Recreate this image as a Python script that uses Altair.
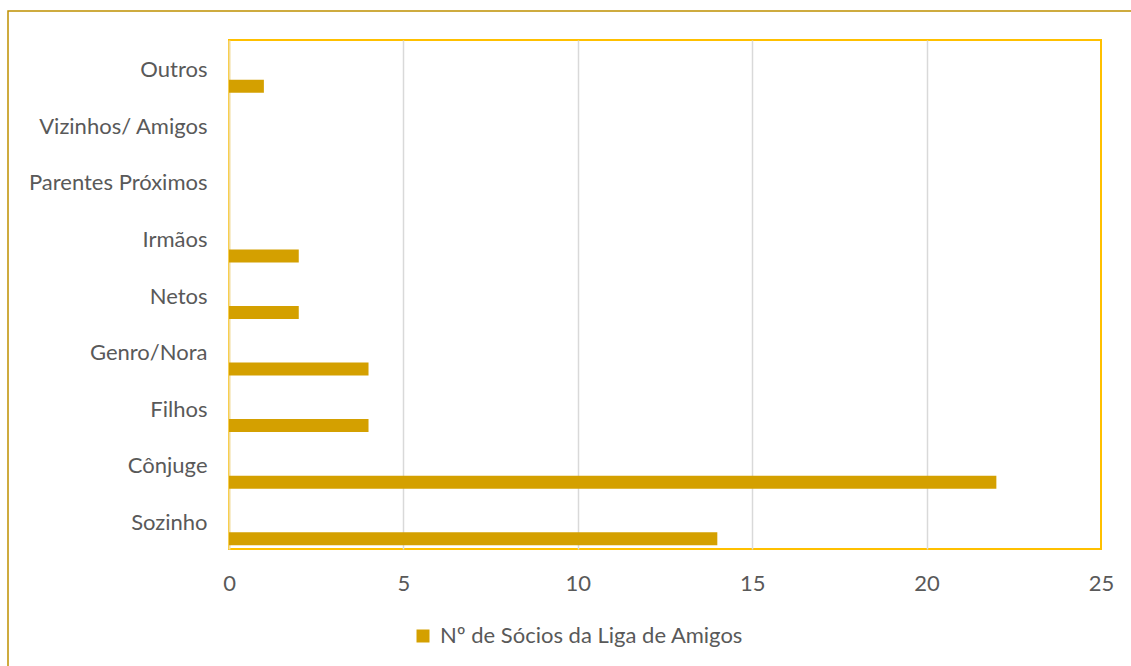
import altair as alt
import pandas as pd

categorias = ["Outros", "Vizinhos/ Amigos", "Parentes Próximos", "Irmãos", "Netos",
              "Genro/Nora", "Filhos", "Cônjuge", "Sozinho"]
valores = [1, 0, 0, 2, 2, 4, 4, 22, 14]
serie = "Nº de Sócios da Liga de Amigos"
x_ticks = [0, 5, 10, 15, 20, 25]

df = pd.DataFrame({"categoria": categorias, "valor": valores,
                   "serie": [serie] * len(categorias)})

W, H = 872, 509
FONT = "Lato"
TXT = "#595959"
FS = 22

bars = alt.Chart(df).mark_bar(height=13, yOffset=18).encode(
    y=alt.Y("categoria:N", sort=categorias,
            axis=alt.Axis(title=None, labelFontSize=FS, labelColor=TXT, labelPadding=22,
                          labelOffset=2,
                          ticks=False, grid=False, domainColor="#F2DC9B", domainWidth=2,
                          labelFont=FONT, labelLimit=400)),
    x=alt.X("valor:Q", scale=alt.Scale(domain=[0, 25], nice=False),
            axis=alt.Axis(values=x_ticks, title=None, labelFontSize=FS, labelColor=TXT,
                          labelPadding=24, ticks=False, domain=False, grid=True,
                          labelFlush=False, labelOverlap=False,
                          gridColor="#D9D9D9", gridWidth=1.5,
                          gridOpacity={"condition": {"test": "datum.value === 0 || datum.value === 25", "value": 0}, "value": 1},
                          labelFont=FONT)),
    color=alt.Color("serie:N", scale=alt.Scale(range=["#D4A000"]),
                    legend=alt.Legend(title=None, orient="none", legendX=183, legendY=585,
                                      symbolType="square", symbolSize=169, labelFontSize=FS,
                                      labelColor=TXT, labelFont=FONT, padding=0,
                                      labelOffset=6, symbolStrokeWidth=0, labelLimit=600))
)

frame = alt.Chart(pd.DataFrame({"a": [0]})).mark_rect(
    fillOpacity=0, stroke="#BF9000", strokeWidth=1.5
).encode(x=alt.value(-221), x2=alt.value(1200), y=alt.value(-29), y2=alt.value(700))

chart = alt.layer(frame, bars).properties(
    width=W, height=H,
    autosize=alt.AutoSizeParams(type="none"),
    padding={"left": 229, "top": 40, "right": 30, "bottom": 117},
    background="white"
).configure_view(stroke="#FFC000", strokeWidth=2)

chart.save("out.html", embed_options={"renderer": "svg", "actions": False})
